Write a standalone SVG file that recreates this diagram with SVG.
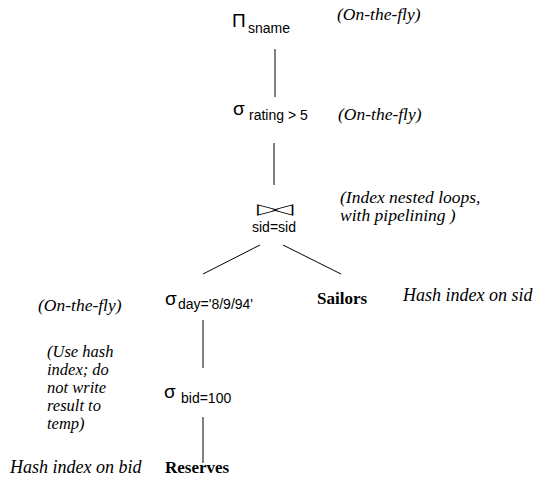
<svg xmlns="http://www.w3.org/2000/svg" width="534" height="486" viewBox="0 0 534 486">
<style>
.sans{font-family:"Liberation Sans",Arial,sans-serif;font-size:14px;fill:#000}
.sym{font-family:"Liberation Sans",Arial,sans-serif;font-size:19px;fill:#000}
.tri{font-family:"DejaVu Sans",sans-serif;font-size:15px;fill:#000}
.note{font-family:"Liberation Serif","Times New Roman",serif;font-style:italic;font-size:17.5px;fill:#000}
.small{font-size:16.5px}
.big{font-size:18px}
.rel{font-family:"Liberation Serif","Times New Roman",serif;font-weight:bold;font-size:17px;fill:#000}
.edge{stroke:#000;stroke-width:1;fill:none}
</style>
<rect width="534" height="486" fill="#fff"/>
<g id="connectors">
<line class="edge" x1="275" y1="49" x2="275" y2="97"/>
<line class="edge" x1="274" y1="143" x2="274" y2="185"/>
<line class="edge" x1="260" y1="245" x2="203" y2="274"/>
<line class="edge" x1="283" y1="245" x2="341" y2="274"/>
<line class="edge" x1="203" y1="320" x2="203" y2="368"/>
<line class="edge" x1="203" y1="417" x2="203" y2="463"/>
</g>
<g id="project">
<text class="sym" x="232" y="27" font-size="18">Π</text>
<text class="sans" x="248" y="33">sname</text>
<text class="note" x="337" y="20">(On-the-fly)</text>
</g>
<g id="select-rating">
<text class="sym" x="233" y="115">σ</text>
<text class="sans" x="249" y="120">rating &gt; 5</text>
<text class="note" x="338" y="120">(On-the-fly)</text>
</g>
<g id="join">
<text class="tri" x="257" y="214" textLength="22" lengthAdjust="spacingAndGlyphs">▷</text>
<text class="tri" x="271" y="214" textLength="22" lengthAdjust="spacingAndGlyphs">◁</text>
<text class="sans" x="252" y="232">sid=sid</text>
<text class="note" x="340" y="203">(Index nested loops,</text>
<text class="note" x="340" y="221">with pipelining )</text>
</g>
<g id="select-day">
<text class="sym" x="165" y="305">σ</text>
<text class="sans" x="178" y="309">day='8/9/94'</text>
<text class="note" x="38" y="311">(On-the-fly)</text>
</g>
<g id="sailors">
<text class="rel" x="317" y="304">Sailors</text>
<text class="note big" x="403" y="301">Hash index on sid</text>
</g>
<g id="select-bid">
<text class="sym" x="164" y="398">σ</text>
<text class="sans" x="181" y="403">bid=100</text>
<text class="note small" x="47" y="357">(Use hash</text>
<text class="note small" x="47" y="375">index; do</text>
<text class="note small" x="47" y="393">not write</text>
<text class="note small" x="47" y="411">result to</text>
<text class="note small" x="47" y="429">temp)</text>
</g>
<g id="reserves">
<text class="rel" x="165" y="473">Reserves</text>
<text class="note big" x="10" y="473">Hash index on bid</text>
</g>
</svg>
